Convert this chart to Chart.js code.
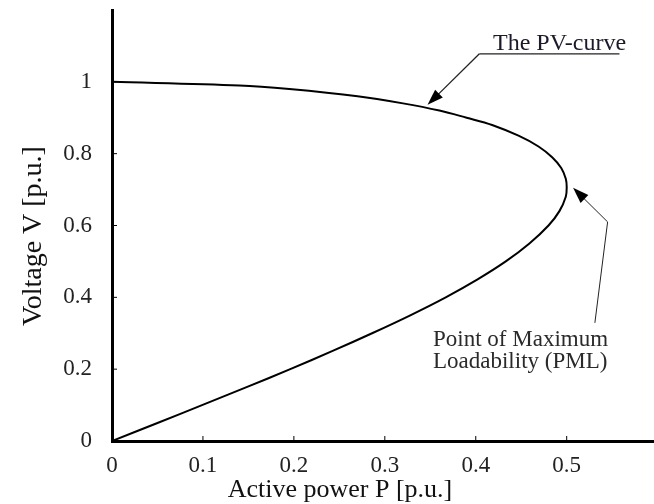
<!DOCTYPE html>
<html>
<head>
<meta charset="utf-8">
<script src="https://cdn.jsdelivr.net/npm/chart.js@4/dist/chart.umd.min.js"></script>
<style>
html,body{margin:0;padding:0;background:#fff;}
#wrap{width:654px;height:504px;}
</style>
</head>
<body>
<div id="wrap"><canvas id="c" width="654" height="504"></canvas></div>
<script>
// Data (P in p.u., V in p.u.)
const activePower = [0, 0.14, 0.195, 0.27, 0.32, 0.36, 0.39, 0.418, 0.447, 0.469, 0.484, 0.494, 0.499, 0.5,
                     0.499, 0.492, 0.48, 0.459, 0.433, 0.402, 0.367, 0.328, 0.286, 0.242, 0.196, 0.148, 0.099, 0.05, 0];
const voltage     = [1.0, 0.99, 0.98, 0.96, 0.94, 0.92, 0.90, 0.88, 0.85, 0.82, 0.79, 0.76, 0.73, 0.707,
                     0.68, 0.64, 0.60, 0.55, 0.50, 0.45, 0.40, 0.35, 0.30, 0.25, 0.20, 0.15, 0.10, 0.05, 0];
const xTickValues = [0, 0.1, 0.2, 0.3, 0.4, 0.5];
const yTickValues = [0, 0.2, 0.4, 0.6, 0.8, 1];
const xTitle = 'Active power P [p.u.]';
const yTitle = 'Voltage V [p.u.]';
const pvLabel = 'The PV-curve';
const pmlLabel = ['Point of Maximum', 'Loadability (PML)'];

const FONT = "'Liberation Serif', 'DejaVu Serif', serif";

// annotation geometry in data coordinates
const annot = {
  pv: { text: {x: 0.419, y: 1.089}, under: [{x: 0.404, y: 1.078}, {x: 0.558, y: 1.078}], tip: {x: 0.347, y: 0.936} },
  pml: { text: {x: 0.353, y: 0.265}, path: [{x: 0.531, y: 0.329}, {x: 0.545, y: 0.610}], tip: {x: 0.507, y: 0.705} }
};

function arrow(ctx, x0, y0, x1, y1) {
  const ang = Math.atan2(y1 - y0, x1 - x0);
  const len = 16, half = 5.5;
  ctx.beginPath();
  ctx.moveTo(x0, y0);
  ctx.lineTo(x1 - Math.cos(ang) * len * 0.8, y1 - Math.sin(ang) * len * 0.8);
  ctx.stroke();
  ctx.beginPath();
  ctx.moveTo(x1, y1);
  ctx.lineTo(x1 - Math.cos(ang) * len - Math.sin(ang) * half, y1 - Math.sin(ang) * len + Math.cos(ang) * half);
  ctx.lineTo(x1 - Math.cos(ang) * len + Math.sin(ang) * half, y1 - Math.sin(ang) * len - Math.cos(ang) * half);
  ctx.closePath();
  ctx.fill();
}

const decor = {
  id: 'decor',
  afterDraw(chart) {
    const ctx = chart.ctx;
    const xs = chart.scales.x, ys = chart.scales.y;
    const X = v => xs.getPixelForValue(v), Y = v => ys.getPixelForValue(v);
    const area = chart.chartArea;
    ctx.save();
    ctx.strokeStyle = '#000';
    ctx.fillStyle = '#000';
    // inward tick marks
    ctx.lineWidth = 1;
    xTickValues.forEach(v => { if (v === 0) return; ctx.beginPath(); ctx.moveTo(X(v), area.bottom); ctx.lineTo(X(v), area.bottom - 5); ctx.stroke(); });
    yTickValues.forEach(v => { if (v === 0) return; ctx.beginPath(); ctx.moveTo(area.left, Y(v)); ctx.lineTo(area.left + 5, Y(v)); ctx.stroke(); });

    // x title
    ctx.font = '26px ' + FONT;
    ctx.fillStyle = '#111';
    ctx.textAlign = 'center';
    ctx.textBaseline = 'alphabetic';
    ctx.fillText(xTitle, 340, 497);
    // y title
    ctx.save();
    ctx.font = '28px ' + FONT;
    ctx.translate(41, 236);
    ctx.rotate(-Math.PI / 2);
    ctx.fillText(yTitle, 0, 0);
    ctx.restore();

    // PV-curve annotation
    ctx.font = '24px ' + FONT;
    ctx.textAlign = 'left';
    ctx.fillStyle = '#1a1a2a';
    ctx.fillText(pvLabel, X(annot.pv.text.x), Y(annot.pv.text.y));
    ctx.strokeStyle = '#222';
    ctx.fillStyle = '#000';
    ctx.lineWidth = 1.3;
    ctx.beginPath();
    ctx.moveTo(X(annot.pv.under[1].x), Y(annot.pv.under[1].y));
    ctx.lineTo(X(annot.pv.under[0].x), Y(annot.pv.under[0].y));
    ctx.stroke();
    arrow(ctx, X(annot.pv.under[0].x), Y(annot.pv.under[0].y), X(annot.pv.tip.x), Y(annot.pv.tip.y));

    // PML annotation
    ctx.font = '23px ' + FONT;
    ctx.fillStyle = '#2a2a2a';
    ctx.fillText(pmlLabel[0], X(annot.pml.text.x), Y(annot.pml.text.y));
    ctx.fillText(pmlLabel[1], X(annot.pml.text.x), Y(annot.pml.text.y) + 22);
    ctx.fillStyle = '#000';
    ctx.lineWidth = 1;
    ctx.beginPath();
    ctx.moveTo(X(annot.pml.path[0].x), Y(annot.pml.path[0].y));
    ctx.lineTo(X(annot.pml.path[1].x), Y(annot.pml.path[1].y));
    ctx.stroke();
    arrow(ctx, X(annot.pml.path[1].x), Y(annot.pml.path[1].y), X(annot.pml.tip.x), Y(annot.pml.tip.y));
    ctx.restore();
  }
};

new Chart(document.getElementById('c'), {
  type: 'scatter',
  data: {
    datasets: [{
      data: activePower.map((p, i) => ({x: p, y: voltage[i]})),
      showLine: true,
      borderColor: '#000',
      borderWidth: 2,
      pointRadius: 0,
      tension: 0.35,
      fill: false
    }]
  },
  options: {
    responsive: false,
    animation: false,
    layout: { padding: { top: 10, right: 0, left: 0, bottom: 0 } },
    plugins: { legend: { display: false }, tooltip: { enabled: false } },
    scales: {
      x: {
        type: 'linear',
        min: 0, max: 0.596,
        afterBuildTicks: s => { s.ticks = xTickValues.map(v => ({value: v})); },
        afterFit: s => { s.height = 63; s.paddingLeft = 0; s.paddingRight = 0; },
        grid: { display: false },
        border: { display: true, color: '#000', width: 3 },
        ticks: { color: '#222', font: { family: FONT, size: 23 }, padding: 3, maxRotation: 0, callback: v => String(v) }
      },
      y: {
        type: 'linear',
        min: 0, max: 1.2,
        afterBuildTicks: s => { s.ticks = yTickValues.map(v => ({value: v})); },
        afterFit: s => { s.width = 112; s.paddingTop = 0; s.paddingBottom = 0; },
        grid: { display: false },
        border: { display: true, color: '#000', width: 3 },
        ticks: { color: '#222', font: { family: FONT, size: 23 }, padding: 12, callback: v => String(v) }
      }
    }
  },
  plugins: [decor]
});
</script>
</body>
</html>
